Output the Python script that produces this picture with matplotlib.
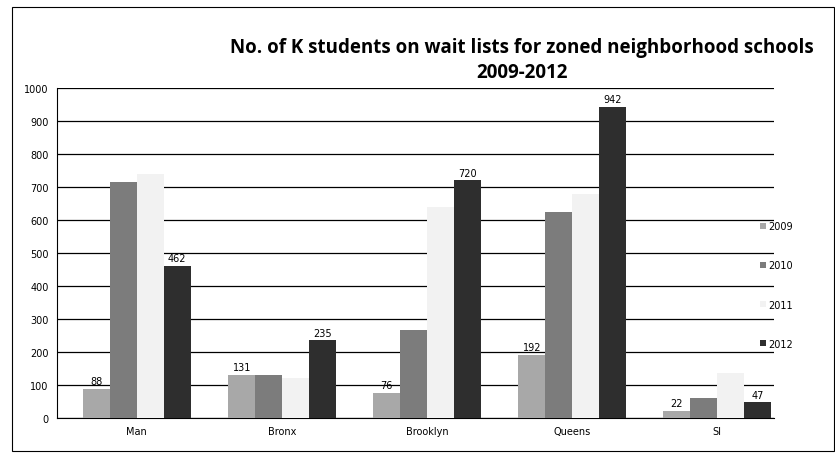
import matplotlib.pyplot as plt
import numpy as np

boroughs = ["Man", "Bronx", "Brooklyn", "Queens", "SI"]
years = ["2009", "2010", "2011", "2012"]
wait_2009 = [88, 131, 76, 192, 22]
wait_2010 = [715, 131, 266, 625, 60]
wait_2011 = [740, 120, 640, 680, 135]
wait_2012 = [462, 235, 720, 942, 47]
series = [wait_2009, wait_2010, wait_2011, wait_2012]
colors = ["#a8a8a8", "#7c7c7c", "#f2f2f2", "#2e2e2e"]
labelled = {"2009", "2012"}

fig = plt.figure(figsize=(8.35, 4.64), dpi=100)
ax = fig.add_axes([0.068, 0.097, 0.859, 0.711])

x = np.arange(len(boroughs))
w = 0.185
for i, (yr, vals) in enumerate(zip(years, series)):
    bars = ax.bar(x + (i - 1.5) * w, vals, w, color=colors[i], label=yr,
                  zorder=3, edgecolor="none")
    if yr in labelled:
        ax.bar_label(bars, padding=2, fontsize=7, zorder=4)

ax.set_ylim(0, 1000)
ax.set_xlim(-0.552, 4.393)
ax.set_yticks(range(0, 1001, 100))
ax.set_xticks(x)
ax.set_xticklabels(boroughs)
ax.tick_params(length=0, labelsize=7, pad=6)
ax.grid(axis="y", color="black", linewidth=0.9, zorder=0)
for s in ["top", "right"]:
    ax.spines[s].set_visible(False)

fig.text(0.625, 0.87, "No. of K students on wait lists for zoned neighborhood schools\n2009-2012",
         ha="center", va="center", fontsize=13.5, fontweight="bold", family="Open Sans",
         linespacing=1.35)

ax.legend(loc="center left", bbox_to_anchor=(0.975, 0.403), borderaxespad=0, frameon=False,
          fontsize=7, handlelength=0.6, handleheight=0.6, handletextpad=0.2, labelspacing=3.0)

fig.patches.append(plt.Rectangle((0.014, 0.025), 0.985, 0.957, transform=fig.transFigure,
                                 fill=False, edgecolor="black", linewidth=0.8))
fig.savefig("out.png", dpi=100)
